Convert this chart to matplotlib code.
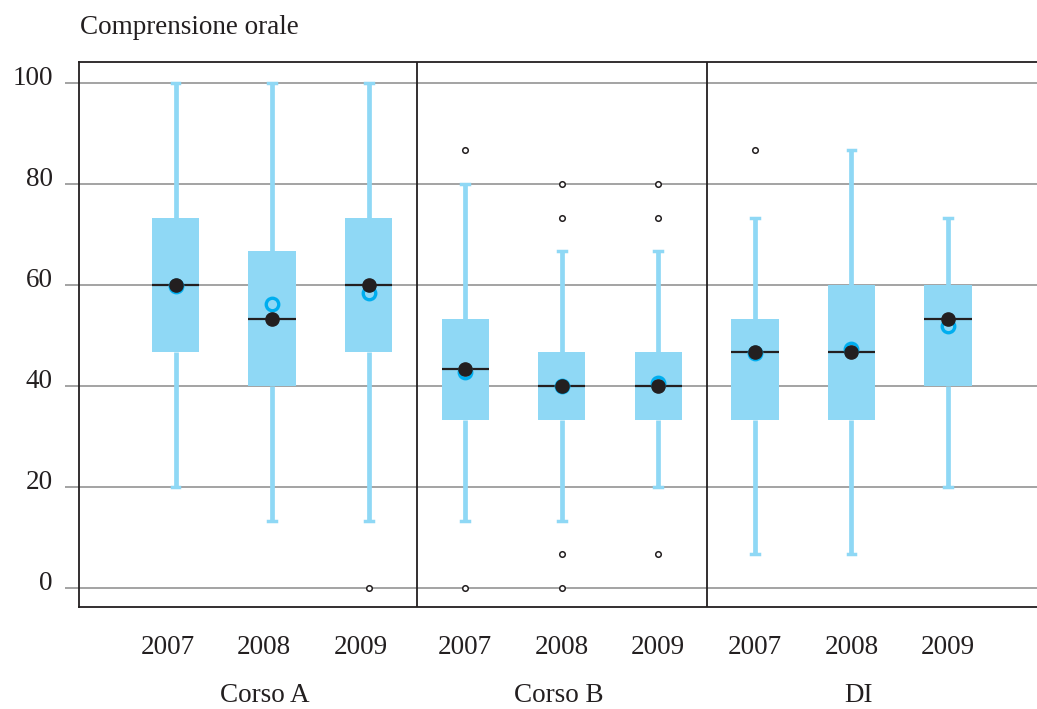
import matplotlib.pyplot as plt
import matplotlib.transforms as mtransforms

plt.rcParams['font.family'] = ['Liberation Serif', 'DejaVu Serif']

# data (scores)
years = ['2007', '2008', '2009'] * 3
groups = ['Corso A', 'Corso B', 'DI']
whis_hi = [100, 100, 100, 80, 66.7, 66.7, 73.3, 86.7, 73.3]
q3 = [73.3, 66.7, 73.3, 53.3, 46.7, 46.7, 53.3, 60, 60]
medians = [60, 53.3, 60, 43.3, 40, 40, 46.7, 46.7, 53.3]
q1 = [46.7, 40, 46.7, 33.3, 33.3, 33.3, 33.3, 33.3, 40]
whis_lo = [20, 13.3, 13.3, 13.3, 13.3, 20, 6.7, 6.7, 20]
means = [59.8, 56.2, 58.4, 42.8, 40.1, 40.5, 46.5, 47.4, 51.9]
outliers = [[], [], [0], [86.7, 0], [80, 73.3, 6.7, 0], [80, 73.3, 6.7],
            [86.7], [], []]

box_col = '#8fd8f5'
ring_col = '#00aeef'
dark = '#231f20'
grid_col = '#8a8a8a'
fs = 19.5

fig = plt.figure(figsize=(10.37, 7.09), dpi=100)
ax = fig.add_axes([79/1037, 1 - 607/709, 1 - 79/1037, 545/709])

pos = list(range(1, 10))
stats = []
for i in range(9):
    stats.append(dict(med=medians[i], q1=q1[i], q3=q3[i], whislo=whis_lo[i],
                      whishi=whis_hi[i], fliers=outliers[i]))

ax.bxp(stats, positions=pos, widths=0.49, patch_artist=True,
       showfliers=True, capwidths=0.08,
       boxprops=dict(facecolor=box_col, edgecolor=box_col, linewidth=0),
       whiskerprops=dict(color=box_col, linewidth=3.4, solid_capstyle='butt'),
       capprops=dict(color=box_col, linewidth=2.5),
       medianprops=dict(color=dark, linewidth=1.6),
       flierprops=dict(marker='o', markersize=4, markerfacecolor='white',
                       markeredgecolor=dark, markeredgewidth=1.1),
       zorder=2)

ax.plot(pos, means, 'o', ms=9, mfc='none', mec=ring_col, mew=2.4, zorder=4)
ax.plot(pos, medians, 'o', ms=9.5, color=dark, zorder=5)

# panel separators
for xs in [3.5, 6.5]:
    ax.axvline(xs, color=dark, lw=1.3, zorder=6)

ax.set_xlim(0, (1037 - 176) / 96.5 + 1)
ax.set_ylim(-3.76, 104.16)
ax.set_yticks([0, 20, 40, 60, 80, 100])
ax.yaxis.grid(True, color=grid_col, lw=1.1)
ax.set_axisbelow(True)
ax.tick_params(axis='y', length=10, color=grid_col, width=1.1, pad=9,
               labelsize=fs, labelcolor=dark)
off = mtransforms.ScaledTranslation(0, 8/100, fig.dpi_scale_trans)
for lab in ax.get_yticklabels():
    lab.set_transform(lab.get_transform() + off)

ax.set_xticks(pos)
ax.set_xticklabels(years)
ax.tick_params(axis='x', length=0, pad=20, labelsize=fs, labelcolor=dark)
# first panel's year labels sit a little left of their boxes
shift = mtransforms.ScaledTranslation(-8/100, 0, fig.dpi_scale_trans)
for lab in ax.get_xticklabels()[:3]:
    lab.set_transform(lab.get_transform() + shift)

for s in ['top', 'bottom', 'left']:
    ax.spines[s].set_color(dark)
    ax.spines[s].set_linewidth(1.3)
ax.spines['right'].set_visible(False)

trans = mtransforms.blended_transform_factory(ax.transData, ax.transAxes)
for gx, g in zip([1.92, 4.97, 8.07], groups):
    ax.text(gx, -88/545, g, transform=trans, ha='center', va='center',
            fontsize=fs, color=dark)

fig.text(80/1037, 1 - 28/709, 'Comprensione orale', ha='left', va='center',
         fontsize=fs, color=dark)

fig.savefig('out.png', dpi=100)
